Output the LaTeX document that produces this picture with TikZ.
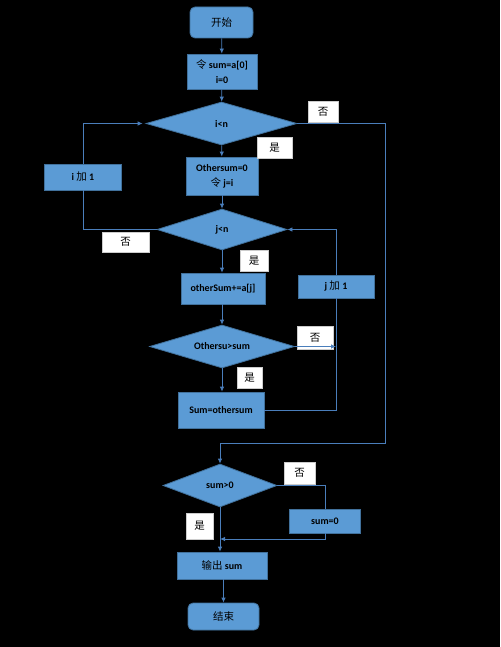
\documentclass[tikz,border=0pt]{standalone}
\usepackage{fontspec}
\setmainfont{Carlito}
\newfontfamily\cjk{Noto Sans CJK SC}
\usetikzlibrary{shapes.geometric, arrows.meta}
\definecolor{boxblue}{HTML}{5B9BD5}
\definecolor{edgeblue}{HTML}{41719C}
\definecolor{lineblue}{HTML}{4A7EBB}
\newcommand{\zh}[1]{{\cjk\mdseries\fontsize{10.5}{12}\selectfont #1}}

\tikzset{
  procbox/.style={draw=edgeblue, fill=boxblue, line width=0.8pt, inner sep=1pt, align=center, font=\fontsize{10}{15}\selectfont\bfseries},
  termbox/.style={procbox, rounded corners=5pt},
  testbox/.style={procbox, diamond, aspect=3.4, inner sep=0pt},
  tagbox/.style={draw=gray!40, fill=white, inner sep=0pt},
  flow/.style={draw=lineblue, line width=0.8pt},
  go/.style={flow, -{Latex[length=5pt,width=4.5pt]}},
}

\begin{document}
\begin{tikzpicture}[x=1pt, y=-1pt]

% Background
\fill[black] (0, 0) rectangle (500, 647);

% Main column
\node[termbox, minimum width=63pt, minimum height=31pt] (start) at (221.5, 22.5) {\zh{开始}};
\node[procbox, minimum width=70pt, minimum height=35pt] (init) at (222, 71.5) {\zh{令} sum=a[0]\\ i=0};
\node[testbox, minimum width=151pt, minimum height=43pt] (condi) at (221.5, 123.5) {i<n};
\node[procbox, minimum width=72pt, minimum height=38pt] (reset) at (222, 176) {Othersum=0\\ \zh{令} j=i};
\node[testbox, minimum width=130pt, minimum height=41pt] (condj) at (222, 229.5) {j<n};
\node[procbox, minimum width=84pt, minimum height=31pt] (add) at (223, 288.5) {otherSum+=a[j]};
\node[testbox, minimum width=145pt, minimum height=43pt] (condo) at (222, 346.5) {Othersu>sum};
\node[procbox, minimum width=86pt, minimum height=36pt] (upd) at (221, 410) {Sum=othersum};
\node[testbox, minimum width=114pt, minimum height=43pt] (conds) at (220, 485.5) {sum>0};
\node[procbox, minimum width=90pt, minimum height=27pt] (out) at (222, 565.5) {\zh{输出} sum};
\node[termbox, minimum width=71pt, minimum height=27pt] (finish) at (223.5, 616.5) {\zh{结束}};

% Side boxes
\node[procbox, minimum width=77pt, minimum height=26pt] (inci) at (83, 177) {i \zh{加} 1};
\node[procbox, minimum width=76pt, minimum height=23pt] (incj) at (336, 286.5) {j \zh{加} 1};
\node[procbox, minimum width=71pt, minimum height=24pt] (zero) at (325, 521) {sum=0};

% Yes / no tags
\node[tagbox, minimum width=30pt, minimum height=21pt] (noi) at (323, 111.5) {\zh{否}};
\node[tagbox, minimum width=35pt, minimum height=21pt] (yesi) at (274.5, 147.5) {\zh{是}};
\node[tagbox, minimum width=47pt, minimum height=20pt] (noj) at (125.5, 242) {\zh{否}};
\node[tagbox, minimum width=28pt, minimum height=21pt] (yesj) at (254, 260.5) {\zh{是}};
\node[tagbox, minimum width=36pt, minimum height=23pt] (noo) at (315, 337.5) {\zh{否}};
\node[tagbox, minimum width=25pt, minimum height=21pt] (yeso) at (249.5, 377.5) {\zh{是}};
\node[tagbox, minimum width=31pt, minimum height=22pt] (nos) at (299.5, 473) {\zh{否}};
\node[tagbox, minimum width=27pt, minimum height=26pt] (yess) at (199.5, 526) {\zh{是}};

% Helper points
\coordinate (rgt) at (385, 443);
\coordinate (jm) at (incj.south |- condo.east);
\coordinate (mrg) at (220, 539);

% Straight flow
\draw[go] (start) -- (init);
\draw[go] (init) -- (condi);
\draw[go] (condi) -- (reset);
\draw[go] (reset) -- (condj);
\draw[go] (condj.south) -- (condj.south |- add.north);
\draw[go] (add.south -| condo.north) -- (condo);
\draw[go] (condo.south) -- (condo.south |- upd.north);
\draw[go] (conds.south) -- (conds.south |- out.north);
\draw[go] (out.south -| finish.north) -- (finish);

% Loops
\draw[go] (condi.east) -| (rgt) -| (conds.north);
\draw[flow] (condj.west) -| (inci.south);
\draw[go, shorten >=3pt] (inci.north) |- (condi.west);
\draw[go] (condo.east) -- (jm);
\draw[flow] (upd.east) -| (incj.south);
\draw[go] (incj.north) |- (condj.east);
\draw[flow] (conds.east) -| (zero.north);
\draw[go] (zero.south) |- (mrg);

\end{tikzpicture}
\end{document}
